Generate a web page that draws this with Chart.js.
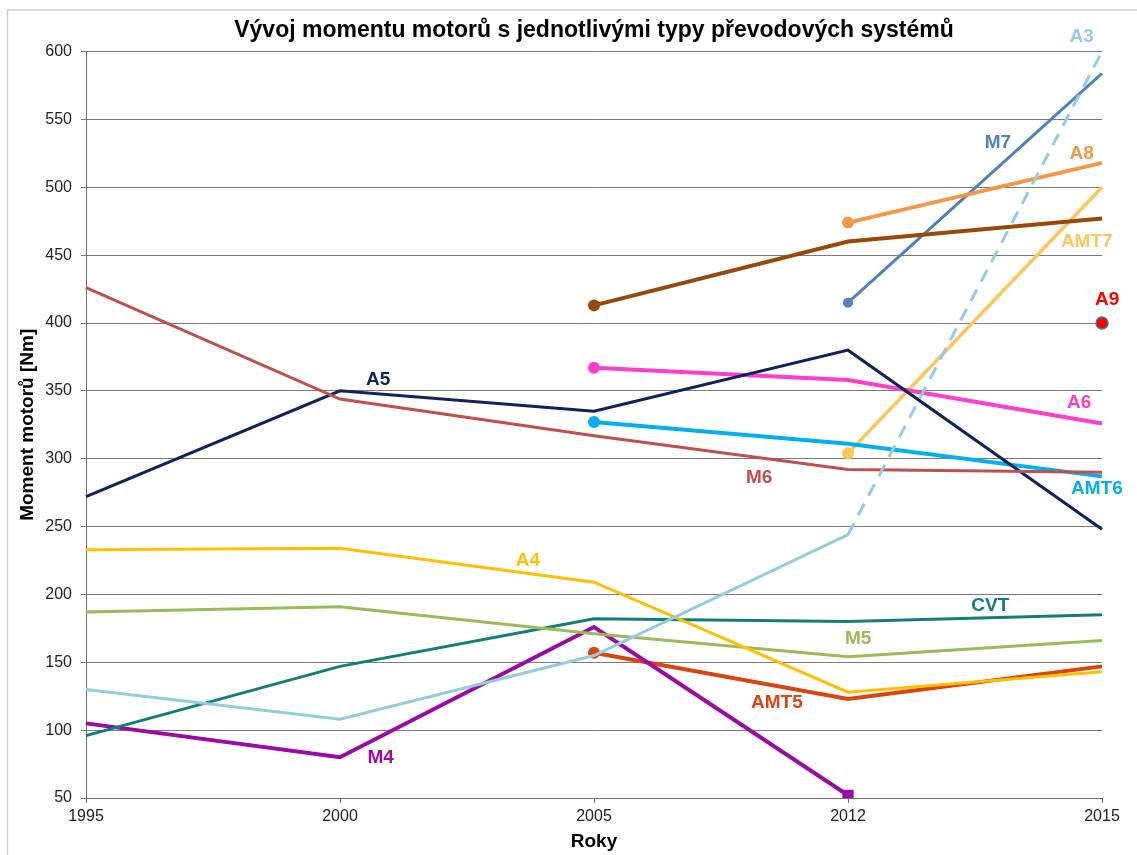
<!DOCTYPE html>
<html>
<head>
<meta charset="utf-8">
<script src="https://cdn.jsdelivr.net/npm/chart.js@4.4.1/dist/chart.umd.min.js"></script>
<style>
  html, body { margin: 0; padding: 0; background: #ffffff; }
  #wrap { position: relative; width: 1137px; height: 855px; }
</style>
</head>
<body>
<div id="wrap"><canvas id="c" width="1137" height="855"></canvas></div>
<script>
// ---- data ----
const categories = ['1995', '2000', '2005', '2012', '2015'];
const yTicks = [50, 100, 150, 200, 250, 300, 350, 400, 450, 500, 550, 600];

const M6   = [426, 344, 317, 292, 290];
const A5   = [272, 350, 335, 380, 248];
const A4   = [233, 234, 209, 128, 143];
const M5   = [187, 191, 171, 154, 166];
const CVT  = [96, 147, 182, 180, 185];
const A3   = [130, 108, 155, 244, 600];
const M4   = [105, 80, 176, 52, null];
const AMT5 = [null, null, 157, 123, 147];
const A6   = [null, null, 367, 358, 326];
const AMT6 = [null, null, 327, 311, 287];
const A7   = [null, null, 413, 460, 477];
const A8   = [null, null, null, 474, 518];
const M7   = [null, null, null, 415, 584];
const AMT7 = [null, null, null, 304, 500];
const A9   = [null, null, null, null, 400];

// ---- styles ----
const colors = {
  M6: '#C0504D', A5: '#10215E', A4: '#FFC000', M5: '#9BBB59', CVT: '#0E8078',
  A3: '#93CDDD', M4: '#9C0AA6', AMT5: '#D9440F', A6: '#FF3DCB', AMT6: '#00B0F0',
  A7: '#984807', A8: '#F79646', M7: '#4F81BD', AMT7: '#FBC65C', A9: '#FF0000'
};

// label anchors in data units (category index, value)
const labelAnchors = {
  A5: [1.15, 358], M6: [2.65, 286], A4: [1.74, 225], M4: [1.16, 80],
  M5: [3.04, 167], CVT: [3.56, 192], AMT5: [2.72, 120], A3: [3.92, 611],
  M7: [3.59, 533], A8: [3.92, 525], AMT7: [3.94, 460], A9: [4.02, 417],
  A6: [3.91, 341], AMT6: [3.98, 278]
};

function firstIndex(arr) { return arr.findIndex(v => v !== null); }

function mk(name, data, width, opts) {
  const fi = firstIndex(data);
  const o = opts || {};
  return Object.assign({
    label: name,
    data: data,
    borderColor: colors[name],
    backgroundColor: colors[name],
    borderWidth: width,
    pointRadius: ctx => (o.startDot && ctx.dataIndex === fi) ? o.startDot : 0,
    pointHoverRadius: 0,
    pointBorderWidth: 0,
    tension: 0,
    spanGaps: false,
    fill: false
  }, o.extra || {});
}

const lastM4 = M4.length - 1 - [...M4].reverse().findIndex(v => v !== null);

const datasets = [
  mk('A3', A3, 3, { extra: {
    segment: { borderDash: ctx => ctx.p0DataIndex === 3 ? [13, 9] : undefined }
  }}),
  mk('M6', M6, 3),
  mk('A5', A5, 3),
  mk('A4', A4, 3),
  mk('M5', M5, 3),
  mk('CVT', CVT, 3),
  mk('M4', M4, 4, { extra: {
    pointRadius: ctx => ctx.dataIndex === lastM4 ? 8 : 0,
    pointStyle: 'rect'
  }}),
  mk('AMT5', AMT5, 4, { startDot: 6 }),
  mk('A6', A6, 4, { startDot: 6 }),
  mk('AMT6', AMT6, 4, { startDot: 6 }),
  mk('A7', A7, 4, { startDot: 6 }),
  mk('A8', A8, 4, { startDot: 6 }),
  mk('M7', M7, 3, { startDot: 5 }),
  mk('AMT7', AMT7, 3.5, { startDot: 6 }),
  mk('A9', A9, 2, { extra: {
    pointRadius: 6, pointBorderWidth: 1.5, pointBorderColor: '#31859C',
    pointBackgroundColor: '#FF0000'
  }})
];

const frame = {
  id: 'frame',
  beforeDraw(chart) {
    const c = chart.ctx;
    c.save();
    c.fillStyle = '#ffffff';
    c.fillRect(0, 0, chart.width, chart.height);
    c.strokeStyle = '#cfcfcf';
    c.lineWidth = 1.5;
    c.beginPath();
    c.moveTo(7.5, chart.height);
    c.lineTo(7.5, 10);
    c.lineTo(chart.width, 10);
    c.stroke();
    c.restore();
  }
};

const seriesLabels = {
  id: 'seriesLabels',
  afterDatasetsDraw(chart) {
    const c = chart.ctx;
    const xs = chart.scales.x, ys = chart.scales.y;
    c.save();
    c.font = 'bold 19px "Liberation Sans", Arial, sans-serif';
    c.textAlign = 'center';
    c.textBaseline = 'middle';
    const step = xs.getPixelForValue(1) - xs.getPixelForValue(0);
    Object.keys(labelAnchors).forEach(k => {
      const [xi, yv] = labelAnchors[k];
      const base = Math.floor(xi);
      const px = xs.getPixelForValue(base) + (xi - base) * step;
      const py = ys.getPixelForValue(yv);
      c.fillStyle = colors[k];
      c.fillText(k, px, py);
    });
    c.restore();
  }
};

new Chart(document.getElementById('c'), {
  type: 'line',
  data: { labels: categories, datasets: datasets },
  options: {
    responsive: false,
    animation: false,
    events: [],
    layout: { padding: { left: 0, right: 35, top: 0, bottom: 0 } },
    plugins: {
      legend: { display: false },
      tooltip: { enabled: false },
      title: {
        display: true,
        fullSize: false,
        text: 'Vývoj momentu motorů s jednotlivými typy převodových systémů',
        color: '#000000',
        font: { family: '"Liberation Sans", Arial, sans-serif', size: 23, weight: 'bold', lineHeight: 1.2 },
        padding: { top: 17, bottom: 7 }
      }
    },
    scales: {
      x: {
        type: 'category',
        offset: false,
        grid: { display: true, drawOnChartArea: false, color: '#6f6f6f', tickLength: 5 },
        border: { display: true, color: '#6f6f6f', width: 1 },
        ticks: { color: '#222222', padding: 4, maxRotation: 0,
          font: { family: '"Liberation Sans", Arial, sans-serif', size: 16 } },
        title: { display: true, text: 'Roky', color: '#000000',
          font: { family: '"Liberation Sans", Arial, sans-serif', size: 19, weight: 'bold', lineHeight: 1.2 },
          padding: { top: 0, bottom: 2 } },
        afterFit(scale) { scale.height = 57; }
      },
      y: {
        type: 'linear',
        min: 50, max: 600,
        afterBuildTicks(scale) { scale.ticks = yTicks.map(v => ({ value: v })); },
        grid: { display: true, drawOnChartArea: true, color: '#7a7a7a', tickLength: 5, lineWidth: 1 },
        border: { display: true, color: '#6f6f6f', width: 1 },
        ticks: { color: '#222222', padding: 9,
          font: { family: '"Liberation Sans", Arial, sans-serif', size: 16 } },
        title: { display: true, text: 'Moment motorů [Nm]', color: '#000000',
          font: { family: '"Liberation Sans", Arial, sans-serif', size: 19, weight: 'bold', lineHeight: 1.2 },
          padding: { top: 16, bottom: 0 } },
        afterFit(scale) { scale.width = 86; }
      }
    }
  },
  plugins: [frame, seriesLabels]
});
</script>
</body>
</html>
